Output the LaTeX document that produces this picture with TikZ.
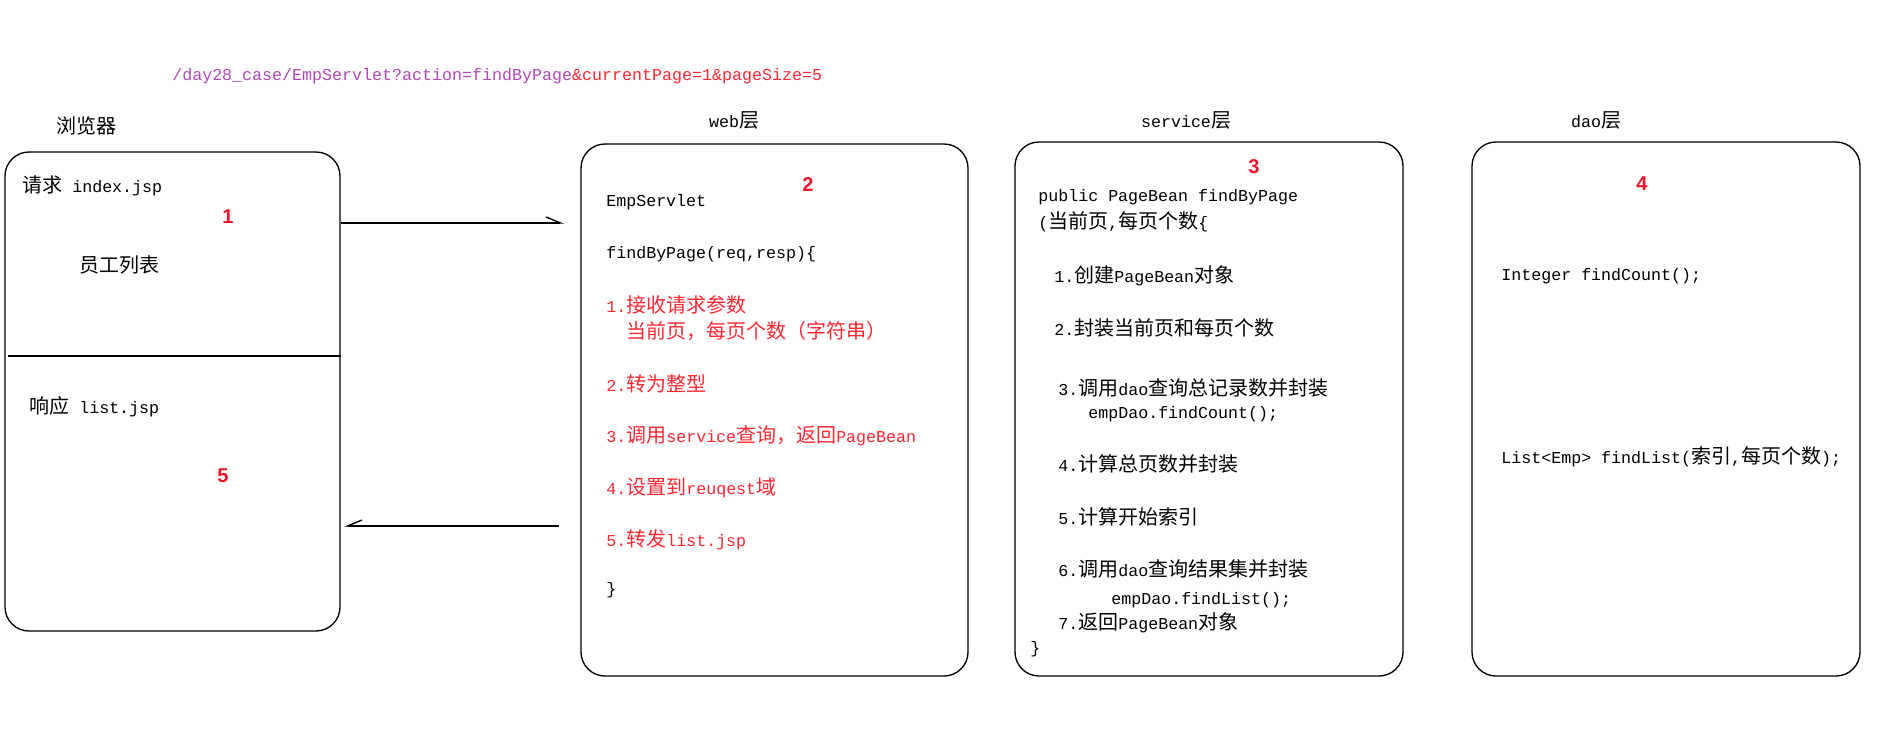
\documentclass[tikz,border=0pt]{standalone}
\usepackage{fontspec}
\setmonofont[Scale=0.833]{Liberation Mono}
\newfontfamily\cjk{Noto Sans CJK SC}
\newfontfamily\numfont{Liberation Sans}
\usetikzlibrary{arrows.meta}
\definecolor{urlpurple}{RGB}{176,72,182}
\definecolor{txtred}{RGB}{250,40,50}
\definecolor{numred}{RGB}{235,20,40}
\newcommand\C[1]{{\cjk #1}}
\begin{document}
\begin{tikzpicture}[x=0.75pt,y=-0.75pt,
  txt/.style={anchor=west,inner sep=0pt,font=\fontsize{15}{18}\selectfont\ttfamily},
  ctxt/.style={txt,anchor=center},
  rtxt/.style={txt,text=txtred},
  num/.style={inner sep=0pt,text=numred,font=\fontsize{15}{18}\selectfont\numfont\bfseries},
  box/.style={draw,line width=1pt,rounded corners=18pt,inner sep=0pt},
  arr/.style={line width=1pt}]
\useasboundingbox (0,0) rectangle (1881,740);

% boxes
\node[box,minimum width=335*0.75pt,minimum height=479*0.75pt] (b1) at (172.5,391.5) {};
\node[box,minimum width=387*0.75pt,minimum height=532*0.75pt] (b2) at (774.5,410) {};
\node[box,minimum width=388*0.75pt,minimum height=534*0.75pt] (b3) at (1209,409) {};
\node[box,minimum width=388*0.75pt,minimum height=534*0.75pt] (b4) at (1666,409) {};
\coordinate (dv) at (8,356);
\draw[line width=1pt] (dv) -- (b1.east |- dv);

% titles
\node[txt,text=urlpurple] (url) at (172,76) {/day28\_case/EmpServlet?action=findByPage\textcolor{txtred}{\&currentPage=1\&pageSize=5}};
\node[ctxt] (h1) at (86,126) {\C{浏览器}};
\node[ctxt] (h2) at (734,120) {web\C{层}};
\node[ctxt] (h3) at (1186,120) {service\C{层}};
\node[ctxt] (h4) at (1596,120) {dao\C{层}};

% arrows
\coordinate (a1e) at (564,223);
\draw[arr,-{Straight Barb[harpoon,length=11pt,width=9pt]}] (b1.east |- a1e) -- (a1e);
\coordinate (a2s) at (559,526);
\coordinate (a2e) at (344,526);
\draw[arr,-{Straight Barb[harpoon,swap,length=11pt,width=9pt]}] (a2s) -- (a2e);

% browser box
\node[txt] (r1) at (22,186) {\C{请求} index.jsp};
\node[num] (n1) at (228,217) {1};
\node[txt] (r2) at (79,265) {\C{员工列表}};
\node[txt] (r3) at (29,407) {\C{响应} list.jsp};
\node[num] (n5) at (223,476) {5};

% web box
\node[num] (n2) at (808,185) {2};
\node[txt] (w1) at (606,202) {EmpServlet};
\node[txt] (w2) at (606,254) {findByPage(req,resp)\{};
\node[rtxt] (w3) at (606,305) {1.\C{接收请求参数}};
\node[rtxt] (w4) at (626,331) {\C{当前页，每页个数（字符串）}};
\node[rtxt] (w5) at (606,384) {2.\C{转为整型}};
\node[rtxt] (w6) at (606,436) {3.\C{调用}service\C{查询，返回}PageBean};
\node[rtxt] (w7) at (606,488) {4.\C{设置到}reuqest\C{域}};
\node[rtxt] (w8) at (606,540) {5.\C{转发}list.jsp};
\node[txt] (w9) at (606,590) {\}};

% service box
\node[num] (n3) at (1254,167) {3};
\node[txt] (s1) at (1038,197) {public PageBean findByPage};
\node[txt] (s2) at (1038,222) {(\C{当前页},\C{每页个数}\{};
\node[txt] (s3) at (1054,276) {1.\C{创建}PageBean\C{对象}};
\node[txt] (s4) at (1054,328) {2.\C{封装当前页和每页个数}};
\node[txt] (s5) at (1058,388) {3.\C{调用}dao\C{查询总记录数并封装}};
\node[txt] (s6) at (1088,414) {empDao.findCount();};
\node[txt] (s7) at (1058,464) {4.\C{计算总页数并封装}};
\node[txt] (s8) at (1058,517) {5.\C{计算开始索引}};
\node[txt] (s9) at (1058,569) {6.\C{调用}dao\C{查询结果集并封装}};
\node[txt] (s10) at (1111,600) {empDao.findList();};
\node[txt] (s11) at (1058,623) {7.\C{返回}PageBean\C{对象}};
\node[txt] (s12) at (1030,649) {\}};

% dao box
\node[num] (n4) at (1642,184) {4};
\node[txt] (d1) at (1501,276) {Integer findCount();};
\node[txt] (d2) at (1501,457) {List<Emp> findList(\C{索引},\C{每页个数});};
\end{tikzpicture}
\end{document}
